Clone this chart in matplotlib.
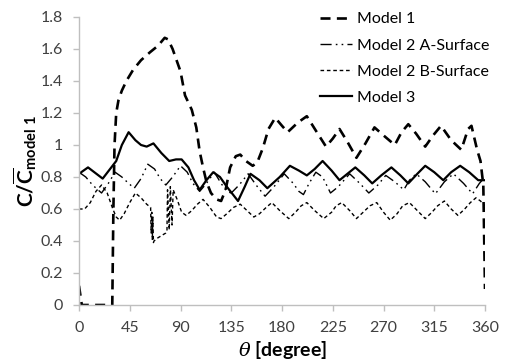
import matplotlib
matplotlib.use("Agg")
import matplotlib.pyplot as plt

# ---------------- data ----------------
m1_x = [0, 2.5, 29.5, 30.5, 31.5, 33, 35, 38, 42, 48, 55, 63, 70, 76, 79, 83, 87, 90, 94, 100,
        104, 107, 110, 113, 117, 122, 126, 130, 134, 139, 143, 148, 154, 158, 163, 168, 174,
        180, 185, 194, 202, 210, 219, 225, 231, 238, 246, 254, 262, 270, 280, 286, 292, 299,
        307, 314, 321, 330, 339, 345, 348, 353, 356, 358.5, 360]
m1_y = [0.12, 0.0, 0.0, 0.6, 1.0, 1.2, 1.28, 1.34, 1.40, 1.47, 1.53, 1.58, 1.62, 1.67, 1.66,
        1.60, 1.52, 1.46, 1.31, 1.22, 1.11, 0.96, 0.86, 0.77, 0.70, 0.66, 0.65, 0.72, 0.86,
        0.93, 0.94, 0.90, 0.87, 0.89, 0.98, 1.10, 1.17, 1.12, 1.08, 1.14, 1.18, 1.09, 0.99,
        1.04, 1.10, 1.02, 0.92, 1.01, 1.11, 1.06, 1.00, 1.08, 1.13, 1.07, 0.99, 1.06, 1.12,
        1.03, 0.97, 1.10, 1.12, 0.97, 0.90, 0.75, 0.10]

m2a_x = [0, 6, 12, 20, 26, 32, 38, 44, 49, 55, 61, 67, 72, 77, 83, 90, 96, 101, 107, 113,
         120, 126, 131, 135, 142, 150, 157, 165, 173, 182, 190, 195, 199, 204, 210, 216, 223,
         230, 240, 249, 257, 265, 272, 280, 288, 293, 299, 307, 316, 324, 332, 341, 349, 355, 360]
m2a_y = [0.83, 0.80, 0.75, 0.70, 0.76, 0.83, 0.80, 0.76, 0.73, 0.79, 0.88, 0.85, 0.79, 0.75,
         0.80, 0.87, 0.83, 0.76, 0.71, 0.76, 0.83, 0.76, 0.71, 0.70, 0.75, 0.82, 0.75, 0.68,
         0.74, 0.82, 0.76, 0.71, 0.69, 0.76, 0.83, 0.80, 0.70, 0.74, 0.82, 0.76, 0.70, 0.75,
         0.81, 0.77, 0.72, 0.78, 0.82, 0.77, 0.695, 0.77, 0.82, 0.76, 0.695, 0.76, 0.80]

m2b_x = [0, 5, 10, 15, 20, 25, 30, 33, 36, 40, 45, 50, 55, 60, 63.5, 64, 64.5, 65, 65.5, 66,
         66.5, 70, 77, 78, 78.5, 80, 81, 82.5, 83.5, 87, 91, 95, 100, 105, 110, 116, 122, 126,
         131, 137, 143, 149, 155, 160, 166, 171, 178, 186, 192, 197, 202, 209, 217, 224, 228,
         233, 240, 246, 252, 258, 264, 270, 276, 282, 287, 293, 300, 307, 313, 318, 324, 330,
         336, 342, 347, 352, 356, 360]
m2b_y = [0.60, 0.60, 0.64, 0.71, 0.75, 0.70, 0.60, 0.55, 0.53, 0.57, 0.64, 0.70, 0.67, 0.63,
         0.61, 0.45, 0.58, 0.41, 0.55, 0.39, 0.40, 0.42, 0.45, 0.46, 0.72, 0.47, 0.74, 0.50,
         0.72, 0.66, 0.58, 0.56, 0.59, 0.63, 0.66, 0.61, 0.55, 0.54, 0.57, 0.61, 0.63, 0.59,
         0.55, 0.57, 0.61, 0.64, 0.59, 0.54, 0.58, 0.62, 0.64, 0.59, 0.54, 0.58, 0.62, 0.64,
         0.59, 0.54, 0.58, 0.62, 0.64, 0.58, 0.53, 0.57, 0.62, 0.64, 0.59, 0.54, 0.58, 0.62,
         0.65, 0.60, 0.56, 0.60, 0.64, 0.67, 0.65, 0.62]

m3_x = [0, 8, 21, 33, 38, 44, 50, 55, 60, 66, 73, 80, 86, 91, 97, 102, 107, 113, 119, 125,
        131, 141, 147, 152, 160, 167, 178, 187, 195, 202, 209, 216, 224, 231, 238, 245, 253,
        260, 268, 277, 285, 292, 300, 307, 315, 323, 330, 338, 346, 354, 360]
m3_y = [0.82, 0.86, 0.79, 0.90, 1.00, 1.08, 1.03, 1.00, 0.99, 1.01, 0.95, 0.90, 0.91, 0.91,
        0.86, 0.78, 0.72, 0.78, 0.83, 0.80, 0.74, 0.65, 0.74, 0.82, 0.78, 0.73, 0.80, 0.87,
        0.84, 0.81, 0.85, 0.90, 0.84, 0.78, 0.82, 0.86, 0.81, 0.76, 0.81, 0.86, 0.81, 0.76,
        0.82, 0.87, 0.83, 0.78, 0.83, 0.87, 0.83, 0.78, 0.78]

labels = ["Model 1", "Model 2 A-Surface", "Model 2 B-Surface", "Model 3"]
x_ticks = [0, 45, 90, 135, 180, 225, 270, 315, 360]
y_ticks = [0, 0.2, 0.4, 0.6, 0.8, 1.0, 1.2, 1.4, 1.6, 1.8]
y_tick_labels = ["0", "0.2", "0.4", "0.6", "0.8", "1", "1.2", "1.4", "1.6", "1.8"]

# ---------------- styling ----------------
plt.rcParams['font.family'] = ['Lato', 'DejaVu Sans']
plt.rcParams['mathtext.fontset'] = 'custom'
plt.rcParams['mathtext.rm'] = 'Lato'
plt.rcParams['mathtext.bf'] = 'Lato:bold'
plt.rcParams['mathtext.it'] = 'DejaVu Serif:italic'

fig = plt.figure(figsize=(5.06, 3.64), dpi=100)
ax = fig.add_axes([79/506, 1-305/364, (485-79)/506, (305-17)/364])

ax.plot(m1_x, m1_y, color='black', lw=1.9, dashes=(3.8, 2.4), label=labels[0])
ax.plot(m2a_x, m2a_y, color='black', lw=1.0, dashes=(8, 3, 1.2, 3, 1.2, 3), label=labels[1])
ax.plot(m2b_x, m2b_y, color='black', lw=1.0, dashes=(2.6, 2.0), label=labels[2])
ax.plot(m3_x, m3_y, color='black', lw=1.6, label=labels[3])

ax.set_xlim(0, 360)
ax.set_ylim(0, 1.8)
ax.set_xticks(x_ticks)
ax.set_xticklabels([str(v) for v in x_ticks])
ax.set_yticks(y_ticks)
ax.set_yticklabels(y_tick_labels)

for s in ['top', 'right']:
    ax.spines[s].set_visible(False)
for s in ['left', 'bottom']:
    ax.spines[s].set_color('#bfbfbf')
    ax.spines[s].set_linewidth(1.0)
ax.tick_params(axis='both', direction='out', length=4.5, width=1.0, color='#bfbfbf',
               labelsize=11.5, labelcolor='#404040')
ax.tick_params(axis='y', pad=7)
ax.tick_params(axis='x', pad=7)

ax.set_xlabel(r'$\theta$ [degree]', fontsize=14, fontweight='bold', labelpad=3)
ax.set_ylabel(r'$\mathbf{C/\overline{C}_{model\ 1}}$', fontsize=15, labelpad=1)

leg = fig.legend(loc='upper left', bbox_to_anchor=(309/506, 1-1/364), frameon=False,
                 fontsize=11.5, handlelength=2.0, handletextpad=0.3, labelspacing=0.75,
                 borderpad=0.2)

fig.savefig('out.png', dpi=100)
